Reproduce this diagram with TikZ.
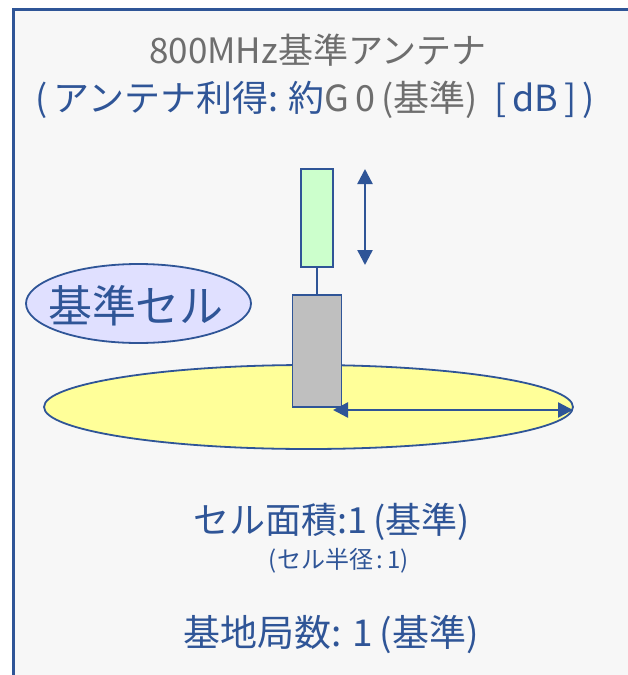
\documentclass[tikz,border=0pt]{standalone}
\usepackage{fontspec}
\setmainfont{Noto Sans CJK JP}
\usetikzlibrary{arrows.meta,shapes.geometric}
\definecolor{fblue}{HTML}{2F5597}
\definecolor{tgray}{HTML}{6E6E6E}
\definecolor{bgc}{HTML}{F7F7F7}
\definecolor{antgreen}{HTML}{CCFFCC}
\definecolor{mastgray}{HTML}{BFBFBF}
\definecolor{cellyellow}{HTML}{FFFF99}
\definecolor{lav}{HTML}{E0E0FF}
\tikzset{
  outl/.style={draw=fblue, line width=1.8pt},
  dbl/.style={draw=fblue, line width=2.4pt, {Triangle[length=15pt,width=15pt]}-{Triangle[length=15pt,width=15pt]}},
  big/.style={font=\fontsize{36}{42}\selectfont, inner sep=0pt},
}
\begin{document}
\begin{tikzpicture}[x=1pt,y=-1pt]
\useasboundingbox (0,0) rectangle (628,675);
\clip (0,0) rectangle (628,675);
\fill[white] (0,0) rectangle (628,675);
\draw[fblue, line width=3pt, fill=bgc] (13,9) rectangle (680,720);

\node[font=\fontsize{35}{40}\selectfont, inner sep=0pt, text=tgray] (t1) at (318,50) {800MHz基準アンテナ};
\node[big] (t2) at (315,100) {\textcolor{fblue}{(\,アンテナ利得: 約}\textcolor{tgray}{G\,0\,(基準)}\textcolor{fblue}{\ \ [\,dB\,]\,)}};

\node[ellipse, outl, fill=cellyellow, minimum width=529pt, minimum height=84pt, inner sep=0pt] (cell) at (308.5,407) {};
\node[rectangle, outl, fill=mastgray, minimum width=49pt, minimum height=112pt, inner sep=0pt] (mast) at (317,351) {};
\node[rectangle, outl, fill=antgreen, minimum width=32pt, minimum height=98pt, inner sep=0pt] (ant) at (317,218) {};
\draw[fblue, line width=1.8pt] (ant.south) -- (mast.north);

\coordinate (vt) at (365,169);
\coordinate (vb) at (365,265);
\draw[dbl] (vt) -- (vb);
\coordinate (hl) at (333,410);
\coordinate (hr) at (573,410);
\draw[dbl] (hl) -- (hr);

\node[ellipse, outl, fill=lav, minimum width=225pt, minimum height=79pt, inner sep=0pt] (ref) at (138.5,303.5) {};
\node[font=\fontsize{44}{50}\selectfont, text=fblue, inner sep=0pt] (reft) at (136,306) {基準セル};

\node[big, text=fblue] (a1) at (332,522) {セル面積:1\,(基準)};
\node[font=\fontsize{24}{28}\selectfont, text=fblue, inner sep=0pt] (a2) at (339,561) {(セル半径\,:\,1)};
\node[font=\fontsize{37}{42}\selectfont, inner sep=0pt, text=fblue] (a3) at (331,634) {基地局数: 1\,(基準)};
\end{tikzpicture}
\end{document}
